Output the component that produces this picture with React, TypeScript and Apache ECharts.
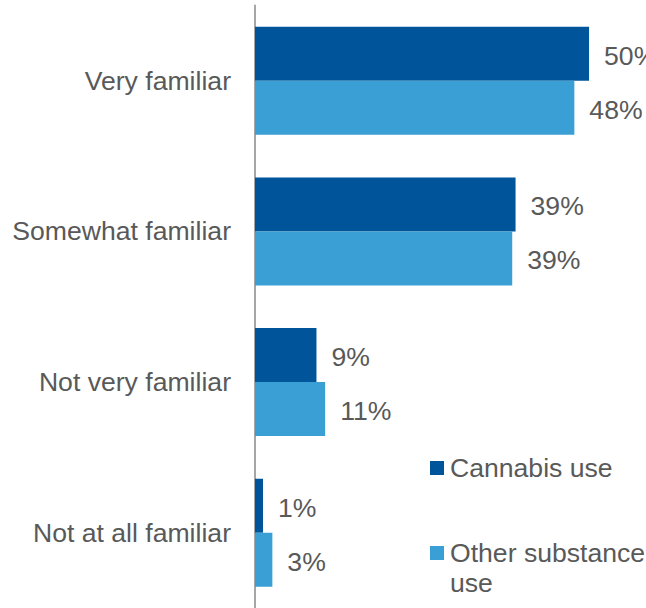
import React, { useEffect, useRef } from "react";
import * as echarts from "echarts";

const categories = ["Very familiar", "Somewhat familiar", "Not very familiar", "Not at all familiar"];
const cannabisUse = [50, 39, 9.2, 1.2];
const otherSubstanceUse = [47.8, 38.5, 10.5, 2.6];
const seriesNames = ["Cannabis use", "Other substance use"];
const legendLines = [["Cannabis use"], ["Other substance", "use"]];

const DARK = "#00549A";
const LIGHT = "#3A9FD4";
const TEXT = "#595959";
const FONT = "'Liberation Sans', Arial, sans-serif";
const FS = 26.6;

export default function App() {
  const ref = useRef<HTMLDivElement>(null);
  useEffect(() => {
    if (!ref.current) return;
    const chart = echarts.init(ref.current, undefined, { renderer: "svg" });
    const label = {
      show: true,
      position: "right",
      distance: 15,
      offset: [0, 2],
      color: TEXT,
      fontSize: FS,
      fontFamily: FONT,
      formatter: (p: any) => Math.round(p.value) + "%",
    };
    chart.setOption({
      animation: false,
      textStyle: { fontFamily: FONT },
      grid: { left: 255, right: 3.5, top: 5.5, bottom: -1.5, containLabel: false },
      xAxis: {
        type: "value",
        min: 0,
        max: 58,
        show: false,
      },
      yAxis: {
        type: "category",
        data: categories,
        inverse: true,
        axisLine: { show: true, lineStyle: { color: "#A6A6A6", width: 2 } },
        axisTick: { show: false },
        axisLabel: { color: TEXT, fontSize: FS, fontFamily: FONT, margin: 24 },
        splitLine: { show: false },
      },
      series: [
        {
          name: seriesNames[0],
          type: "bar",
          data: cannabisUse,
          barWidth: 54,
          barGap: "0%",
          itemStyle: { color: DARK },
          label,
        },
        {
          name: seriesNames[1],
          type: "bar",
          data: otherSubstanceUse,
          barWidth: 54,
          barGap: "0%",
          itemStyle: { color: LIGHT },
          label,
        },
      ],
      graphic: [
        { type: "rect", shape: { x: 430, y: 461, width: 14, height: 14 }, style: { fill: DARK } },
        {
          type: "text",
          x: 450,
          y: 468,
          style: { text: legendLines[0].join("\n"), fill: TEXT, fontSize: FS, fontFamily: FONT, verticalAlign: "middle", align: "left" },
        },
        { type: "rect", shape: { x: 430, y: 546, width: 14, height: 14 }, style: { fill: LIGHT } },
        {
          type: "text",
          x: 450,
          y: 538,
          style: { text: legendLines[1].join("\n"), fill: TEXT, fontSize: FS, fontFamily: FONT, lineHeight: 30, verticalAlign: "top", align: "left" },
        },
      ],
    });
    return () => chart.dispose();
  }, []);
  return <div ref={ref} style={{ position: "absolute", left: 0, top: 0, width: 646, height: 608 }} />;
}
